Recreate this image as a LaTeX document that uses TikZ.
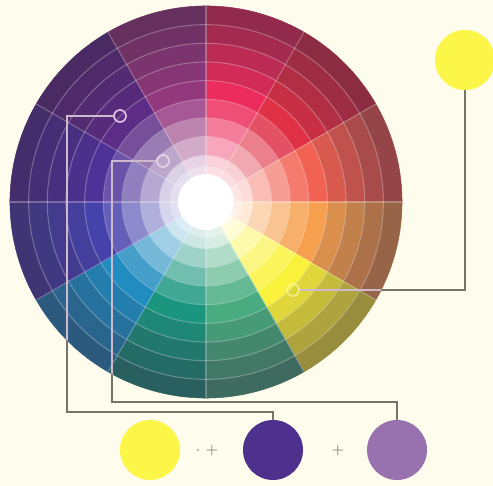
\documentclass[tikz,border=0pt]{standalone}
\usepackage{xcolor}
\usetikzlibrary{positioning,calc}
\definecolor{paper}{RGB}{254,252,236}
\definecolor{leadgray}{RGB}{118,116,104}
\definecolor{wheeldark}{RGB}{55,40,62}
\definecolor{wcrimson}{RGB}{236,44,92}
\definecolor{wred}{RGB}{224,48,70}
\definecolor{wscarlet}{RGB}{242,98,82}
\definecolor{worange}{RGB}{246,160,80}
\definecolor{wyellow}{RGB}{250,242,58}
\definecolor{wsea}{RGB}{72,172,128}
\definecolor{wteal}{RGB}{26,150,126}
\definecolor{wcyan}{RGB}{32,140,192}
\definecolor{wblue}{RGB}{70,66,172}
\definecolor{windigo}{RGB}{78,50,152}
\definecolor{wviolet}{RGB}{92,44,134}
\definecolor{wpurple}{RGB}{148,56,126}
\definecolor{pickyellow}{RGB}{252,246,72}
\definecolor{pickviolet}{RGB}{78,48,142}
\definecolor{picklilac}{RGB}{152,114,174}

\begin{document}
\begin{tikzpicture}[
    x=0.02cm, y=0.02cm,
    swatch/.style={circle, minimum size=1.2cm, inner sep=0pt},
    marker/.style={circle, draw=white!75!violet, line width=1pt, minimum size=0.24cm, inner sep=0pt},
    leader/.style={draw=leadgray, line width=0.8pt},
    inlead/.style={draw=white!80!violet, line width=0.8pt, opacity=0.8},
    gridline/.style={draw=white, opacity=0.28, line width=0.6pt},
    plussign/.style={text=leadgray, font=\small}
]
\fill[paper] (0,0) rectangle (493,486);
\useasboundingbox (0,0) rectangle (493,486);
\coordinate (ctr) at (206,284);

% colour wheel: 12 hues, 9 rings
\begin{scope}[shift={(ctr)}]
\foreach \a/\h in {60/wcrimson,30/wred,0/wscarlet,-30/worange,-60/wyellow,-90/wsea,
                   -120/wteal,-150/wcyan,180/wblue,150/windigo,120/wviolet,90/wpurple}{
  \pgfmathsetmacro{\b}{\a+30}
  \foreach \i/\p/\m in {0/22/white,1/42/white,2/62/white,3/84/white,4/100/white,
                        5/86/wheeldark,6/73/wheeldark,7/61/wheeldark,8/50/wheeldark}{
    \pgfmathsetmacro{\ri}{28+18.67*\i}
    \pgfmathsetmacro{\ro}{\ri+18.67}
    \filldraw[fill=\h!\p!\m, draw=\h!\p!\m, line width=0.3pt]
      (\a:\ri) arc[start angle=\a, end angle=\b, radius=\ri]
      -- (\b:\ro) arc[start angle=\b, end angle=\a, radius=\ro] -- cycle;
  }
}
\foreach \k in {1,...,8}{
  \pgfmathsetmacro{\rr}{28+18.67*\k}
  \draw[gridline] (0,0) circle (\rr);
}
\foreach \a in {0,30,...,330}
  \draw[gridline] (\a:28) -- (\a:196);
\fill[white, opacity=0.3] (0,0) circle (36);
\fill[white] (0,0) circle (28);
\end{scope}

\node[marker] (markA) at (120,370) {};
\node[marker, draw=white!82!violet] (markB) at (163,325) {};
\node[marker, draw=white!70!yellow, opacity=0.6] (markC) at (293,196) {};

\node[swatch, fill=pickyellow] (yellowtop) at (465,426) {};
\node[swatch, fill=pickyellow] (mixyellow) at (150,36) {};
\node[swatch, fill=pickviolet] (mixviolet) at (273,36) {};
\node[swatch, fill=picklilac] (mixlilac) at (397,36) {};
\node[plussign] (plusA) at (207,35) {$\cdot\hspace{3pt}+$};
\node[plussign] (plusB) at (338,35) {$+$};

\coordinate (bendA) at (67,74);
\coordinate (bendB) at (112,84);
\draw[leader] (markA.west) -| (bendA) -| (mixviolet.north);
\draw[leader] (markB.west) -| (bendB) -| (mixlilac.north);
\draw[leader] (yellowtop.south) |- (markC.east);
\begin{scope}
\clip (ctr) circle (196);
\draw[inlead] (markA.west) -| (bendA);
\draw[inlead] (markB.west) -| (bendB);
\draw[inlead] (yellowtop.south) |- (markC.east);
\end{scope}
\end{tikzpicture}
\end{document}
